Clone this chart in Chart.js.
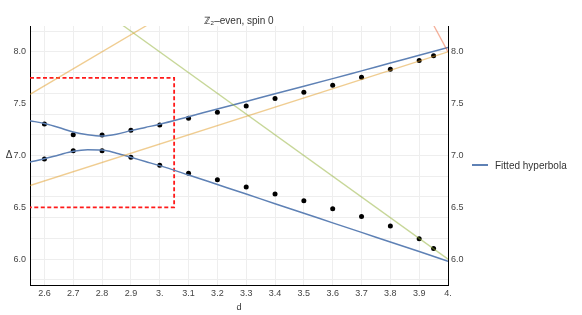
<!DOCTYPE html>
<html>
<head>
  <title>Z2-even, spin 0</title>
  <script src="https://cdn.jsdelivr.net/npm/chart.js"></script>
  <style>
    body {
      margin: 0;
      background: #fff;
    }
    #wrap {
      position: relative;
      width: 582px;
      height: 315px;
    }
    /* html legend, sits right of the frame */
    #legend {
      position: absolute;
      left: 472px;
      top: 158px;
      font-family: "Liberation Sans", Arial, sans-serif;
      font-size: 10px;
      color: #333;
    }
    #legend .item {
      display: flex;
      align-items: center;
      height: 14px;
    }
    #legend .swatch {
      width: 16px;
      height: 0;
      margin-right: 7px;
    }
  </style>
</head>
<body>
  <div id="wrap">
    <canvas id="chart" width="582" height="315"></canvas>
    <div id="legend"></div>
  </div>

  <script>
    // measured points (two branches)
    const dPoints    = [2.6, 2.7, 2.8, 2.9, 3.0, 3.1, 3.2, 3.3, 3.4, 3.5, 3.6, 3.7, 3.8, 3.9, 3.95];
    const deltaUpper = [7.304, 7.201, 7.198, 7.243, 7.295, 7.359, 7.417, 7.478, 7.549, 7.610, 7.678, 7.756, 7.833, 7.916, 7.964];
    const deltaLower = [6.966, 7.047, 7.045, 6.983, 6.905, 6.828, 6.766, 6.696, 6.628, 6.563, 6.486, 6.412, 6.319, 6.196, 6.103];

    // fitted hyperbola
    const fitD     = [2.55, 2.6, 2.65, 2.7, 2.75, 2.8, 2.85, 2.9, 2.95, 3.0, 3.1, 3.2, 3.3, 3.4, 3.5, 3.6, 3.7, 3.8, 3.9, 4.0];
    const fitUpper = [7.336, 7.308, 7.270, 7.226, 7.200, 7.188, 7.205, 7.240, 7.271, 7.302, 7.375, 7.449, 7.522, 7.596, 7.668, 7.742, 7.817, 7.892, 7.967, 8.042];
    const fitLower = [6.938, 6.968, 7.005, 7.040, 7.055, 7.052, 7.022, 6.983, 6.942, 6.902, 6.812, 6.720, 6.628, 6.535, 6.443, 6.350, 6.258, 6.165, 6.073, 5.980];

    // straight reference lines (end points)
    const orangeAD = [2.55, 3.0],  orangeADelta = [7.59, 8.33];
    const orangeBD = [2.55, 4.0],  orangeBDelta = [6.71, 8.0];
    const greenD   = [2.85, 4.0],  greenDelta   = [8.30, 6.0];
    const salmonD  = [3.94, 4.0],  salmonDelta  = [8.31, 8.0];

    // dashed box
    const rectD     = [2.55, 3.05, 3.05, 2.55];
    const rectDelta = [7.75, 7.75, 6.5, 6.5];

    // ticks
    const xTicks      = [2.6, 2.7, 2.8, 2.9, 3.0, 3.1, 3.2, 3.3, 3.4, 3.5, 3.6, 3.7, 3.8, 3.9, 4.0];
    const xTickLabels = ['2.6', '2.7', '2.8', '2.9', '3.', '3.1', '3.2', '3.3', '3.4', '3.5', '3.6', '3.7', '3.8', '3.9', '4.'];
    const yTicks      = [5.8, 6.0, 6.2, 6.4, 6.5, 6.6, 6.8, 7.0, 7.2, 7.4, 7.5, 7.6, 7.8, 8.0, 8.2];
    const yGrid       = [5.8, 6.0, 6.2, 6.4, 6.6, 6.8, 7.0, 7.2, 7.4, 7.6, 7.8, 8.0, 8.2];
    const yMajor      = [6.0, 6.5, 7.0, 7.5, 8.0];
    const yMajorLabels = ['6.0', '6.5', '7.0', '7.5', '8.0'];

    const FONT = '"Liberation Sans", Arial, sans-serif';

    const pts = (xs, ys) => xs.map((x, i) => ({ x: x, y: ys[i] }));

    function refLine(label, xs, ys, color) {
      return {
        label: label,
        data: pts(xs, ys),
        showLine: true,
        borderColor: color,
        borderWidth: 1.3,
        pointRadius: 0
      };
    }

    function yLabel(v) {
      const i = yMajor.indexOf(v);
      return i < 0 ? '' : yMajorLabels[i];
    }

    // Delta label, drawn upright like the original
    const deltaLabel = {
      id: 'deltaLabel',
      afterDraw(chart) {
        const { ctx, chartArea } = chart;
        ctx.save();
        ctx.font = '10px ' + FONT;
        ctx.fillStyle = '#333';
        ctx.textAlign = 'center';
        ctx.textBaseline = 'middle';
        ctx.fillText('Δ', 9, (chartArea.top + chartArea.bottom) / 2);
        ctx.restore();
      }
    };

    const yScaleBase = {
      type: 'linear',
      min: 5.75,
      max: 8.25,
      afterBuildTicks: s => { s.ticks = yTicks.map(v => ({ value: v })); },
      ticks: {
        autoSkip: false,
        padding: 4,
        color: '#444',
        font: { family: FONT, size: 9 },
        callback: v => yLabel(v)
      },
      border: { color: '#000', width: 1 }
    };

    const chart = new Chart(document.getElementById('chart'), {
      type: 'scatter',
      data: {
        datasets: [
          refLine('orange A', orangeAD, orangeADelta, 'rgba(225,156,36,0.5)'),
          refLine('orange B', orangeBD, orangeBDelta, 'rgba(225,156,36,0.5)'),
          refLine('green', greenD, greenDelta, 'rgba(143,176,50,0.5)'),
          refLine('salmon', salmonD, salmonDelta, 'rgba(235,98,53,0.5)'),
          {
            label: 'Fitted hyperbola',
            data: pts(fitD, fitUpper),
            showLine: true,
            borderColor: '#5e81b5',
            borderWidth: 1.5,
            pointRadius: 0,
            cubicInterpolationMode: 'monotone'
          },
          {
            label: 'Fitted hyperbola (lower)',
            data: pts(fitD, fitLower),
            showLine: true,
            borderColor: '#5e81b5',
            borderWidth: 1.5,
            pointRadius: 0,
            cubicInterpolationMode: 'monotone'
          },
          {
            label: 'data upper',
            data: pts(dPoints, deltaUpper),
            pointRadius: 2.5,
            backgroundColor: '#000',
            borderWidth: 0
          },
          {
            label: 'data lower',
            data: pts(dPoints, deltaLower),
            pointRadius: 2.5,
            backgroundColor: '#000',
            borderWidth: 0
          },
          {
            label: 'box',
            data: pts(rectD, rectDelta),
            showLine: true,
            borderColor: '#ff1a1a',
            borderWidth: 1.8,
            borderDash: [4, 2.5],
            pointRadius: 0
          }
        ]
      },
      options: {
        responsive: false,
        animation: false,
        layout: { padding: { left: 0, right: 110, top: 0, bottom: 0 } },
        plugins: {
          title: {
            display: true,
            text: 'ℤ₂–even, spin 0',
            fullSize: false,
            color: '#333',
            font: { family: FONT, size: 10, weight: 'normal', lineHeight: 1 },
            padding: { top: 16, bottom: 0 }
          },
          legend: { display: false },
          tooltip: { enabled: false }
        },
        scales: {
          x: {
            type: 'linear',
            min: 2.55,
            max: 4.0,
            afterBuildTicks: s => { s.ticks = xTicks.map(v => ({ value: v })); },
            afterFit: s => { s.height = 30; },
            ticks: {
              autoSkip: false,
              maxRotation: 0,
              padding: 3,
              color: '#444',
              font: { family: FONT, size: 9 },
              callback: (v, i) => xTickLabels[i]
            },
            grid: { color: '#eeeeee', drawTicks: false },
            border: { color: '#000', width: 1 },
            title: {
              display: true,
              text: 'd',
              color: '#333',
              font: { family: FONT, size: 9 },
              padding: { top: 0, bottom: 2 }
            }
          },
          y: Object.assign({}, yScaleBase, {
            position: 'left',
            afterFit: s => { s.width = 30; },
            grid: {
              drawTicks: false,
              color: c => (c.tick && yGrid.includes(c.tick.value)) ? '#eeeeee' : 'rgba(0,0,0,0)'
            }
          }),
          y2: Object.assign({}, yScaleBase, {
            position: 'right',
            afterFit: s => { s.width = 24; },
            ticks: Object.assign({}, yScaleBase.ticks, { padding: 3 }),
            grid: { drawOnChartArea: false, drawTicks: false }
          })
        }
      },
      plugins: [deltaLabel]
    });

    // html legend: only the fitted curve gets an entry
    const legendEl = document.getElementById('legend');
    chart.data.datasets
      .filter(ds => ds.label === 'Fitted hyperbola')
      .forEach(ds => {
        const item = document.createElement('div');
        item.className = 'item';
        const swatch = document.createElement('span');
        swatch.className = 'swatch';
        swatch.style.borderTop = '2px solid ' + ds.borderColor;
        const text = document.createElement('span');
        text.textContent = ds.label;
        item.appendChild(swatch);
        item.appendChild(text);
        legendEl.appendChild(item);
      });
  </script>
</body>
</html>
